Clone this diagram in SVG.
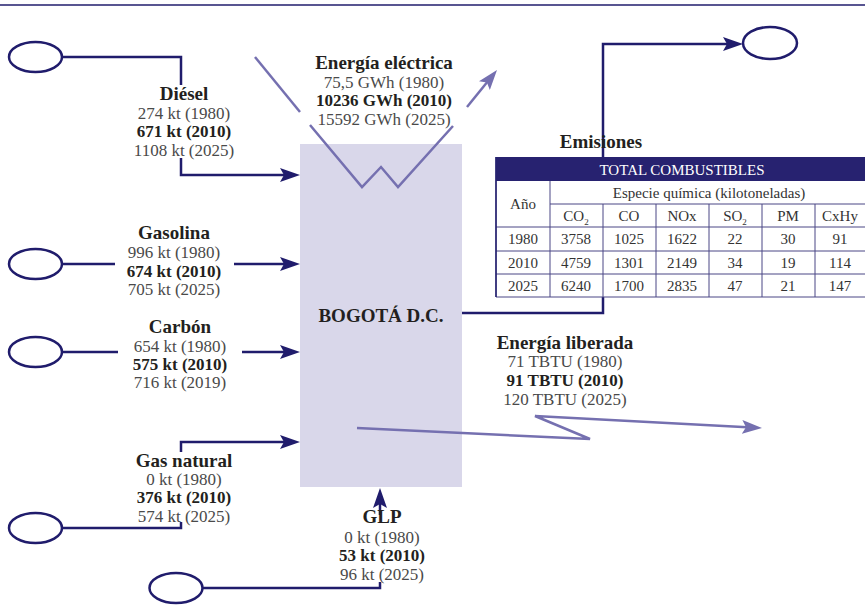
<svg xmlns="http://www.w3.org/2000/svg" width="865" height="606" viewBox="0 0 865 606">
<style>
  text { font-family: "Liberation Serif", "DejaVu Serif", serif; text-anchor: middle; }
  .t { font-size: 19px; font-weight: bold; fill: #231f20; }
  .v { font-size: 17px; fill: #4a4a4a; }
  .b { font-size: 17px; font-weight: bold; fill: #231f20; }
  .src { fill: #ffffff; stroke: #201c6c; stroke-width: 2.5; }
  .nav { fill: none; stroke: #201c6c; stroke-width: 2.5; }
  .pur { fill: none; stroke: #7570b0; stroke-width: 2.5; }
  .grid { stroke: #4a4785; stroke-width: 1; fill: none; }
  .tc { font-size: 15px; fill: #333333; }
</style>
<defs>
  <marker id="an" viewBox="0 0 20 14" refX="10" refY="7" markerWidth="20" markerHeight="14" markerUnits="userSpaceOnUse" orient="auto">
    <path d="M0,0 L20,7 L0,14 L4,7 z" fill="#201c6c"/>
  </marker>
  <marker id="ap" viewBox="0 0 20 14" refX="10" refY="7" markerWidth="20" markerHeight="14" markerUnits="userSpaceOnUse" orient="auto">
    <path d="M0,0 L20,7 L0,14 L4,7 z" fill="#7570b0"/>
  </marker>
</defs>
<rect width="865" height="606" fill="#ffffff"/>
<line x1="0" y1="5" x2="865" y2="5" stroke="#201c6c" stroke-width="1.5"/>

<g id="bogota">
  <rect x="300" y="144" width="162" height="343" fill="#d9d7ea"/>
  <text x="381" y="322" class="t">BOGOTÁ D.C.</text>
</g>

<g id="connectors">
  <path class="nav" d="M62,57 H181 V85"/>
  <path class="nav" d="M181,158 V175 H290" marker-end="url(#an)"/>
  <path class="nav" d="M62,264 H115"/>
  <path class="nav" d="M234,264 H290" marker-end="url(#an)"/>
  <path class="nav" d="M62,352 H118"/>
  <path class="nav" d="M242,352 H290" marker-end="url(#an)"/>
  <path class="nav" d="M181,452 V442 H290" marker-end="url(#an)"/>
  <path class="nav" d="M62,528 H181 V522"/>
  <path class="nav" d="M202,588 H380 V582"/>
  <path class="nav" d="M380,515 V498" marker-end="url(#an)"/>
  <path class="nav" d="M462,313 H603 V44 H733" marker-end="url(#an)"/>
  <path class="pur" d="M255,57 L300,112"/>
  <path class="pur" d="M310,125 L362,187 L381,167 L398,187 L453,126"/>
  <path class="pur" d="M467,107 L490.7,77.8" marker-end="url(#ap)"/>
  <path class="pur" d="M357,428 L590,439 L535,416 L752,427.5" marker-end="url(#ap)"/>
</g>

<g id="diesel">
  <ellipse class="src" cx="35.5" cy="57" rx="26.5" ry="15"/>
  <text x="184" y="100" class="t">Diésel</text>
  <text x="184" y="119" class="v">274 kt (1980)</text>
  <text x="184" y="137" class="b">671 kt (2010)</text>
  <text x="184" y="156" class="v">1108 kt (2025)</text>
</g>

<g id="gasolina">
  <ellipse class="src" cx="35.5" cy="264" rx="26.5" ry="15"/>
  <text x="174" y="239" class="t">Gasolina</text>
  <text x="174" y="258" class="v">996 kt (1980)</text>
  <text x="174" y="277" class="b">674 kt (2010)</text>
  <text x="174" y="295" class="v">705 kt (2025)</text>
</g>

<g id="carbon">
  <ellipse class="src" cx="35.5" cy="352" rx="26.5" ry="15"/>
  <text x="180" y="333" class="t">Carbón</text>
  <text x="180" y="352" class="v">654 kt (1980)</text>
  <text x="180" y="370" class="b">575 kt (2010)</text>
  <text x="180" y="388" class="v">716 kt (2019)</text>
</g>

<g id="gas-natural">
  <ellipse class="src" cx="35.5" cy="528" rx="26.5" ry="15"/>
  <text x="184" y="467" class="t">Gas natural</text>
  <text x="184" y="485" class="v">0 kt (1980)</text>
  <text x="184" y="503" class="b">376 kt (2010)</text>
  <text x="184" y="522" class="v">574 kt (2025)</text>
</g>

<g id="glp">
  <ellipse class="src" cx="176" cy="588" rx="26.5" ry="15"/>
  <text x="382" y="523" class="t">GLP</text>
  <text x="382" y="543" class="v">0 kt (1980)</text>
  <text x="382" y="561" class="b">53 kt (2010)</text>
  <text x="382" y="580" class="v">96 kt (2025)</text>
</g>

<g id="energia-electrica">
  <text x="384" y="69" class="t">Energía eléctrica</text>
  <text x="384" y="88" class="v">75,5 GWh (1980)</text>
  <text x="384" y="106" class="b">10236 GWh (2010)</text>
  <text x="384" y="125" class="v">15592 GWh (2025)</text>
</g>

<g id="energia-liberada">
  <text x="565" y="349" class="t">Energía liberada</text>
  <text x="565" y="367" class="v">71 TBTU (1980)</text>
  <text x="565" y="386" class="b">91 TBTU (2010)</text>
  <text x="565" y="405" class="v">120 TBTU (2025)</text>
</g>

<g id="emisiones">
  <ellipse class="src" cx="770" cy="43" rx="27" ry="16"/>
  <text x="601" y="148" class="t">Emisiones</text>
  <rect x="496" y="181" width="372" height="116" fill="#ffffff"/>
  <rect x="496" y="157" width="372" height="24" fill="#272270"/>
  <text x="682" y="175" style="font-size:15px;fill:#ffffff">TOTAL COMBUSTIBLES</text>
  <path class="grid" d="M496,157 V297 H868 M550,181 V297 M550,204 H868 M496,227 H868 M496,251 H868 M496,274 H868 M603,204 V297 M656,204 V297 M709,204 V297 M762,204 V297 M815,204 V297"/>
  <line x1="496" y1="157" x2="496" y2="297" stroke="#201c6c" stroke-width="1.5"/>
  <text x="523" y="209" class="tc">Año</text>
  <text x="709" y="198" class="tc">Especie química (kilotoneladas)</text>
  <text x="576" y="221" class="tc">CO<tspan style="font-size:9px" dy="4">2</tspan></text>
  <text x="629" y="221" class="tc">CO</text>
  <text x="682" y="221" class="tc">NOx</text>
  <text x="735" y="221" class="tc">SO<tspan style="font-size:9px" dy="4">2</tspan></text>
  <text x="788" y="221" class="tc">PM</text>
  <text x="840" y="221" class="tc">CxHy</text>
  <text x="523" y="244" class="tc">1980</text>
  <text x="576" y="244" class="tc">3758</text>
  <text x="629" y="244" class="tc">1025</text>
  <text x="682" y="244" class="tc">1622</text>
  <text x="735" y="244" class="tc">22</text>
  <text x="788" y="244" class="tc">30</text>
  <text x="840" y="244" class="tc">91</text>
  <text x="523" y="268" class="tc">2010</text>
  <text x="576" y="268" class="tc">4759</text>
  <text x="629" y="268" class="tc">1301</text>
  <text x="682" y="268" class="tc">2149</text>
  <text x="735" y="268" class="tc">34</text>
  <text x="788" y="268" class="tc">19</text>
  <text x="840" y="268" class="tc">114</text>
  <text x="523" y="291" class="tc">2025</text>
  <text x="576" y="291" class="tc">6240</text>
  <text x="629" y="291" class="tc">1700</text>
  <text x="682" y="291" class="tc">2835</text>
  <text x="735" y="291" class="tc">47</text>
  <text x="788" y="291" class="tc">21</text>
  <text x="840" y="291" class="tc">147</text>
</g>
</svg>
